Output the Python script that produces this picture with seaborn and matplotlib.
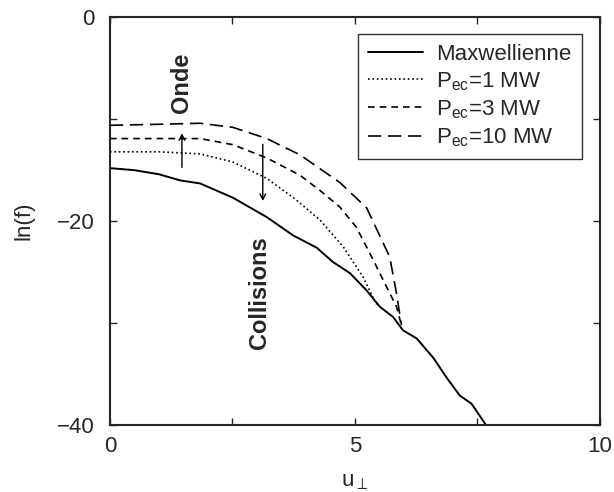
import numpy as np
import pandas as pd
import matplotlib.pyplot as plt
import seaborn as sns

# Courbes
u_max = [0.0, 0.5, 1.0, 1.43, 1.84, 2.51, 3.2, 3.53, 3.74, 4.22, 4.55, 4.9, 5.24, 5.51, 5.78, 5.98, 6.26, 6.6, 6.88, 7.14, 7.38, 7.69]
f_max = [-14.8, -15.0, -15.4, -16.0, -16.3, -17.7, -19.6, -20.7, -21.4, -22.6, -24.0, -25.1, -26.8, -28.4, -29.4, -30.7, -31.5, -33.4, -35.4, -37.1, -37.9, -40.1]

u_p1 = [0.0, 1.0, 1.84, 2.51, 3.2, 3.8, 4.29, 4.76, 5.17, 5.44]
f_p1 = [-13.2, -13.2, -13.4, -14.2, -15.8, -17.9, -19.9, -22.5, -25.5, -28.2]

u_p3 = [0.0, 1.0, 1.84, 2.51, 3.2, 3.88, 4.29, 4.69, 5.03, 5.31, 5.58, 5.85, 5.95]
f_p3 = [-11.9, -11.9, -11.9, -12.5, -13.8, -15.5, -17.0, -18.6, -20.6, -23.2, -25.8, -28.4, -30.2]

u_p10 = [0.0, 1.0, 1.84, 2.51, 3.2, 3.88, 4.69, 5.24, 5.71, 5.85, 5.95]
f_p10 = [-10.6, -10.5, -10.4, -10.8, -11.9, -13.5, -16.2, -18.7, -23.5, -27.1, -30.2]

labels = ['Maxwellienne', r'P$_{\mathrm{ec}}$=1 MW', r'P$_{\mathrm{ec}}$=3 MW', r'P$_{\mathrm{ec}}$=10 MW']
styles = ['-', ':', (0, (4, 3)), (0, (8, 4))]

sns.set_style('ticks')
plt.rcParams['font.family'] = ['Liberation Sans', 'DejaVu Sans']
plt.rcParams['mathtext.fontset'] = 'custom'
plt.rcParams['mathtext.rm'] = 'Liberation Sans'

fig = plt.figure(figsize=(6.14, 4.92), dpi=100)
ax = fig.add_axes([0.179, 0.136, 0.798, 0.829])

series = [(u_max, f_max), (u_p1, f_p1), (u_p3, f_p3), (u_p10, f_p10)]
for (u, f), lab, ls in zip(series, labels, styles):
    df = pd.DataFrame({'u': u, 'f': f})
    sns.lineplot(data=df, x='u', y='f', ax=ax, color='black', linestyle=ls,
                 linewidth=1.4 if ls == '-' else 1.2, label=lab, sort=False)

ax.set_xlim(0, 10)
ax.set_ylim(-40, 0)
ax.set_xticks([0, 5, 10])
ax.set_xticks([2.5, 7.5], minor=True)
ax.set_yticks([0, -20, -40])
ax.set_yticklabels(['0', '\u221220', '\u221240'])
ax.set_yticks([-10, -30], minor=True)
ax.tick_params(which='both', direction='in', top=True, right=True, labelsize=16, length=5, width=1)
ax.tick_params(axis='x', pad=8)
ax.tick_params(axis='y', pad=11)
for sp in ax.spines.values():
    sp.set_linewidth(1.5)
ax.set_xlabel(r'u$_{\perp}$', fontsize=16, labelpad=10)
ax.set_ylabel('ln(f)', fontsize=16, labelpad=16)

leg = ax.legend(loc='upper right', fontsize=16, frameon=True, fancybox=False,
                edgecolor='black', handlelength=2.5, handletextpad=0.6, borderpad=0.45,
                labelspacing=0.25, borderaxespad=0, bbox_to_anchor=(0.963, 0.96))
leg.get_frame().set_linewidth(1.0)

ax.annotate('', xy=(1.47, -11.1), xytext=(1.47, -15.0),
            arrowprops=dict(arrowstyle='->', color='black', lw=1))
ax.annotate('', xy=(3.12, -18.3), xytext=(3.12, -12.2),
            arrowprops=dict(arrowstyle='->', color='black', lw=1))
ax.text(1.47, -6.4, 'Onde', rotation=90, fontsize=17, fontweight='bold', ha='center', va='center')
ax.text(3.06, -27.0, 'Collisions', rotation=90, fontsize=17, fontweight='bold', ha='center', va='center')

fig.savefig('out.png', dpi=100)
